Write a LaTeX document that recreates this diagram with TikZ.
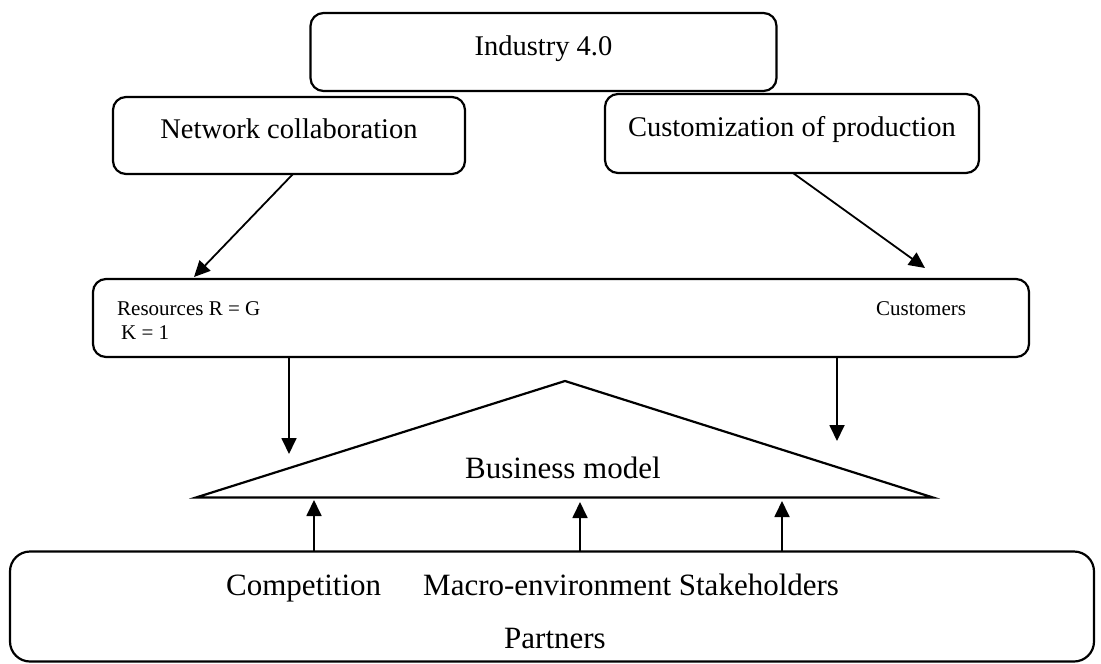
\documentclass[tikz,border=0pt]{standalone}
\usepackage{fontspec}
\setmainfont{Liberation Serif}
\usetikzlibrary{arrows.meta}
\begin{document}
\begin{tikzpicture}[x=1pt,y=-1pt,
  box/.style={draw,line width=2.2pt,rounded corners=13pt,inner sep=0pt},
  bigtxt/.style={font=\fontsize{28.5}{32}\selectfont,anchor=base,inner sep=0pt},
  smalltxt/.style={font=\fontsize{21}{24}\selectfont,anchor=base west,inner sep=0pt},
  lowtxt/.style={font=\fontsize{31}{35}\selectfont,anchor=base west,inner sep=0pt},
  arr/.style={line width=1.8pt,-{Triangle[length=16pt,width=15pt]}}]
\useasboundingbox (0,0) rectangle (1101,664);
% top tier
\node[box,minimum width=466pt,minimum height=78pt] (ind) at (543.5,52) {};
\node[bigtxt] (indt) at (543.5,55) {Industry 4.0};
\node[box,minimum width=352pt,minimum height=77pt] (net) at (289,135.5) {};
\node[bigtxt] (nett) at (289,138) {Network collaboration};
\node[box,minimum width=374pt,minimum height=79pt] (cust) at (792,133.5) {};
\node[bigtxt] (custt) at (792,136) {Customization of production};
% resources / customers band
\node[box,minimum width=936pt,minimum height=78pt] (res) at (561,318) {};
\node[smalltxt] (rest) at (117,315) {Resources R = G};
\node[smalltxt] (kt) at (121,339) {K = 1};
\node[smalltxt] (custs) at (876,315) {Customers};
% business model triangle
\draw[line width=2.2pt,line join=miter] (196,497.5) coordinate (bl) -- (565,381) coordinate (apex) -- (933,497.5) coordinate (br) -- cycle;
\node[font=\fontsize{31}{35}\selectfont,anchor=base west,inner sep=0pt] (bm) at (465,478) {Business model};
% environment box
\node[box,rounded corners=20pt,minimum width=1084pt,minimum height=110pt] (env) at (552,606.5) {};
\node[lowtxt] (comp) at (226,595) {Competition};
\node[lowtxt] (macro) at (423,595) {Macro-environment Stakeholders};
\node[lowtxt] (part) at (504,648) {Partners};
% connectors
\coordinate (n1) at (293,174);
\coordinate (n2) at (194,277);
\coordinate (c1) at (793,173);
\coordinate (c2) at (925,268);
\draw[arr] (n1) -- (n2);
\draw[arr] (c1) -- (c2);
\coordinate (d1s) at (289,357);
\coordinate (d1e) at (289,454);
\coordinate (d2s) at (837,357);
\coordinate (d2e) at (837,441);
\draw[arr] (d1s) -- (d1e);
\draw[arr] (d2s) -- (d2e);
\coordinate (u1s) at (314,551);
\coordinate (u1e) at (314,500);
\coordinate (u2s) at (580,551);
\coordinate (u2e) at (580,502);
\coordinate (u3s) at (782,551);
\coordinate (u3e) at (782,501);
\draw[arr] (u1s) -- (u1e);
\draw[arr] (u2s) -- (u2e);
\draw[arr] (u3s) -- (u3e);
\end{tikzpicture}
\end{document}
